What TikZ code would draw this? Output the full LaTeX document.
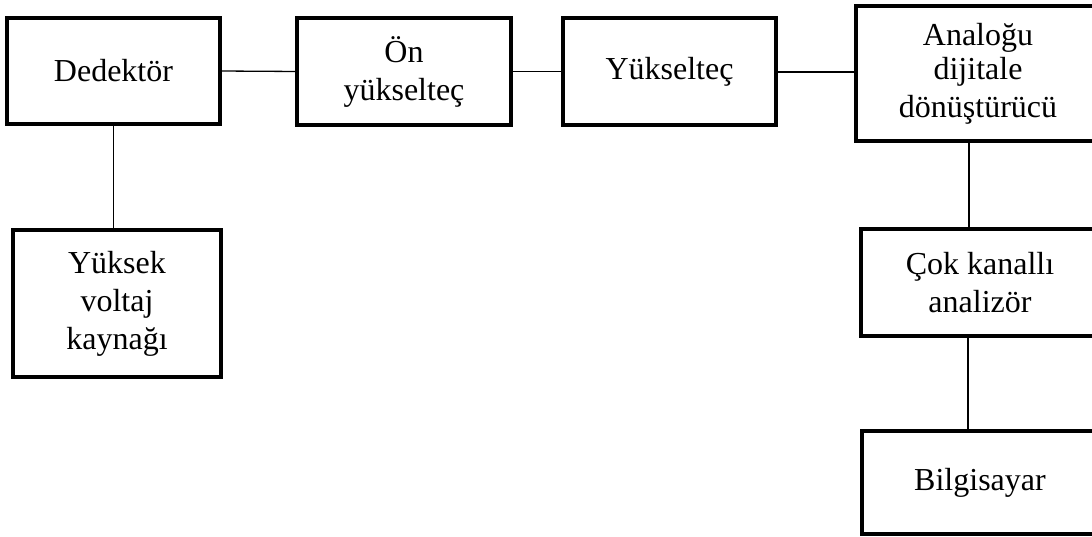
\documentclass[tikz,border=0pt]{standalone}
\usepackage{fontspec}
\setmainfont{Liberation Serif}
\begin{document}
\begin{tikzpicture}[x=1pt,y=-1pt,
  blk/.style={draw=black, line width=4.5pt, rectangle, align=center, inner sep=0pt, outer sep=0pt,
    font=\fontsize{32}{38}\selectfont},
  wire/.style={draw=black, line width=1.3pt}]
\fill[white] (0,0) rectangle (1092,537);
\clip (0,0) rectangle (1092,537);
\useasboundingbox (0,0) rectangle (1092,537);
\node[blk, minimum width=213pt, minimum height=106pt] (det) at (113.5,71) {\raisebox{-3pt}{Dedektör}};
\node[blk, minimum width=208pt, minimum height=147pt] (hv) at (117,303.5) {Yüksek\\voltaj\\kaynağı};
\node[blk, minimum width=214pt, minimum height=107pt] (pre) at (404,71.5) {Ön\\yükselteç};
\node[blk, minimum width=213pt, minimum height=107pt] (amp) at (669.5,71.5) {Yükselteç};
\node[blk, minimum width=244pt, minimum height=135pt] (adc) at (978,73.5) {\raisebox{-4pt}{Analoğu}\\dijitale\\dönüştürücü};
\node[blk, minimum width=238pt, minimum height=107pt] (mca) at (980,282.5) {Çok kanallı\\analizör};
\node[blk, minimum width=236pt, minimum height=103pt] (pc) at (980,482.5) {Bilgisayar};
\draw[wire] (det.east) -- (pre.west);
\draw[wire] (pre.east) -- (amp.west);
\draw[wire] ([yshift=-0.5pt]amp.east) -- ([yshift=-0.5pt]amp.east -| adc.west);
\draw[wire] (det.south) -- (det.south |- hv.north);
\draw[wire] ([xshift=-9pt]adc.south) -- ([xshift=-9pt]adc.south |- mca.north);
\draw[wire] ([xshift=-12pt]mca.south) -- ([xshift=-12pt]mca.south |- pc.north);
\end{tikzpicture}
\end{document}
